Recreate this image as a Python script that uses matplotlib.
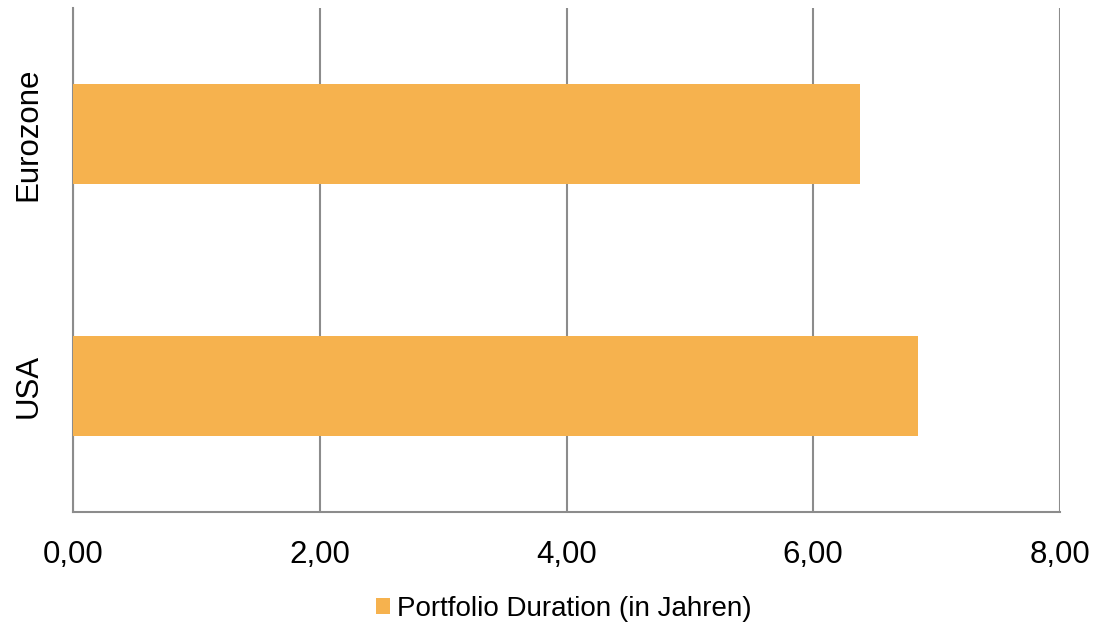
import matplotlib.pyplot as plt

categories = ["USA", "Eurozone"]
durations = [6.85, 6.38]
x_ticks = [0, 2, 4, 6, 8]
x_tick_labels = ["0,00", "2,00", "4,00", "6,00", "8,00"]
series_name = "Portfolio Duration (in Jahren)"

plt.rcParams["font.family"] = ["Liberation Sans", "DejaVu Sans"]

fig = plt.figure(figsize=(10.94, 6.25), dpi=100)
ax = fig.add_axes([73 / 1094, 1 - 512 / 625, (1060 - 73) / 1094, (512 - 8) / 625])

bar_color = "#F6B24E"
ax.barh(range(len(categories)), durations, height=0.4, color=bar_color,
        label=series_name, zorder=3)

ax.set_xlim(0, 8)
ax.set_ylim(-0.5, len(categories) - 0.5)
ax.set_xticks(x_ticks)
ax.set_xticklabels(x_tick_labels, fontsize=22.5)
ax.set_yticks(range(len(categories)))
ax.set_yticklabels(categories, fontsize=22.5, rotation=90, va="center")
ax.tick_params(axis="both", length=0)
ax.tick_params(axis="x", pad=20)
ax.tick_params(axis="y", pad=21)

ax.grid(axis="x", color="#8c8c8c", linewidth=1.5, zorder=0)
for side in ["top", "right"]:
    ax.spines[side].set_visible(False)
for side in ["left", "bottom"]:
    ax.spines[side].set_color("#8c8c8c")
    ax.spines[side].set_linewidth(1.5)

fig.legend(loc="center", bbox_to_anchor=(0.515, 0.026), frameon=False,
           fontsize=20, handlelength=0.5, handleheight=0.5, handletextpad=0.25,
           borderpad=0)

fig.savefig("out.png", dpi=100)
plt.close(fig)
